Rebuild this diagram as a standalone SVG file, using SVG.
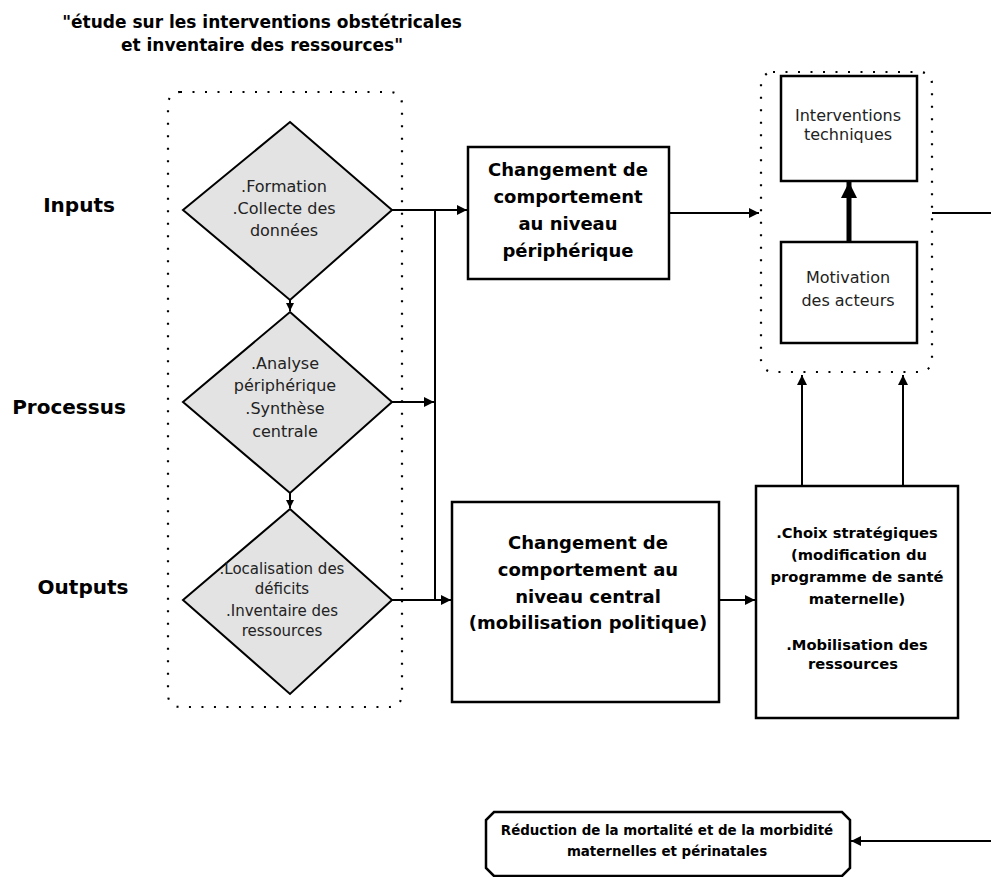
<svg xmlns="http://www.w3.org/2000/svg" width="991" height="877" viewBox="0 0 991 877">
<style>
  text { font-family: "DejaVu Sans", "Liberation Sans", sans-serif; fill: #000; text-anchor: middle; }
  .title { font-size: 17px; font-weight: bold; }
  .lab { font-size: 20px; font-weight: bold; }
  .big { font-size: 18px; font-weight: bold; }
  .mid { font-size: 14.7px; font-weight: bold; }
  .small { font-size: 13.4px; font-weight: bold; }
  .reg { font-size: 16px; fill: #222; }
  .reg2 { font-size: 15px; fill: #222; }
  .dia { fill: #e3e3e3; stroke: #000; stroke-width: 2; }
  .box { fill: #fff; stroke: #000; stroke-width: 2.5; }
  .dot { fill: none; stroke: #000; stroke-width: 2.2; stroke-dasharray: 2 10.5; }
  .ln { fill: none; stroke: #000; stroke-width: 2; }
  .thick { fill: none; stroke: #000; stroke-width: 5; }
</style>
<defs>
  <marker id="ah" viewBox="0 0 10 10" refX="10" refY="5" markerWidth="12" markerHeight="10" markerUnits="userSpaceOnUse" orient="auto">
    <path d="M0,0 L10,5 L0,10 z" fill="#000"/>
  </marker>
  <marker id="ahs" viewBox="0 0 10 10" refX="10" refY="5" markerWidth="9" markerHeight="8" markerUnits="userSpaceOnUse" orient="auto">
    <path d="M0,0 L10,5 L0,10 z" fill="#000"/>
  </marker>
  <marker id="ahb" viewBox="0 0 10 10" refX="10" refY="5" markerWidth="16" markerHeight="17" markerUnits="userSpaceOnUse" orient="auto">
    <path d="M0,0 L10,5 L0,10 z" fill="#000"/>
  </marker>
</defs>

<g id="title">
  <text class="title" x="262" y="28">"étude sur les interventions obstétricales</text>
  <text class="title" x="262" y="51">et inventaire des ressources"</text>
</g>

<g id="labels">
  <text class="lab" x="79" y="212">Inputs</text>
  <text class="lab" x="69" y="414">Processus</text>
  <text class="lab" x="83" y="594">Outputs</text>
</g>

<g id="group-left">
  <rect class="dot" x="168" y="92" width="234" height="615" rx="12"/>
</g>

<g id="diamond-inputs">
  <polygon class="dia" points="290,122 392,210 290,300 183,210"/>
  <text class="reg" x="284" y="192">.Formation</text>
  <text class="reg" x="284" y="214">.Collecte des</text>
  <text class="reg" x="284" y="236">données</text>
</g>

<g id="diamond-processus">
  <polygon class="dia" points="290,312 392,402 290,493 183,402"/>
  <text class="reg" x="285" y="369">.Analyse</text>
  <text class="reg" x="285" y="391">périphérique</text>
  <text class="reg" x="285" y="414">.Synthèse</text>
  <text class="reg" x="285" y="437">centrale</text>
</g>

<g id="diamond-outputs">
  <polygon class="dia" points="290,509 392,600 290,694 183,600"/>
  <text class="reg2" x="282" y="574">.Localisation des</text>
  <text class="reg2" x="282" y="594">déficits</text>
  <text class="reg2" x="282" y="616">.Inventaire des</text>
  <text class="reg2" x="282" y="636">ressources</text>
</g>

<g id="box-peripherique">
  <rect class="box" x="468" y="147" width="201" height="132"/>
  <text class="big" x="568" y="176">Changement de</text>
  <text class="big" x="568" y="203">comportement</text>
  <text class="big" x="568" y="230">au niveau</text>
  <text class="big" x="568" y="257">périphérique</text>
</g>

<g id="box-central">
  <rect class="box" x="452" y="502" width="267" height="200"/>
  <text class="big" x="588" y="549">Changement de</text>
  <text class="big" x="588" y="576">comportement au</text>
  <text class="big" x="588" y="603">niveau central</text>
  <text class="big" x="588" y="629">(mobilisation politique)</text>
</g>

<g id="group-right">
  <rect class="dot" x="761" y="72" width="171" height="300" rx="12"/>
</g>

<g id="box-interventions">
  <rect class="box" x="781" y="76" width="136" height="105"/>
  <text class="reg" x="848" y="121">Interventions</text>
  <text class="reg" x="848" y="140">techniques</text>
</g>

<g id="box-motivation">
  <rect class="box" x="781" y="242" width="136" height="101"/>
  <text class="reg" x="848" y="283">Motivation</text>
  <text class="reg" x="848" y="306">des acteurs</text>
</g>

<g id="box-choix">
  <rect class="box" x="756" y="486" width="202" height="232"/>
  <text class="mid" x="857" y="538">.Choix stratégiques</text>
  <text class="mid" x="859" y="560">(modification du</text>
  <text class="mid" x="857" y="582">programme de santé</text>
  <text class="mid" x="857" y="604">maternelle)</text>
  <text class="mid" x="857" y="650">.Mobilisation des</text>
  <text class="mid" x="853" y="669">ressources</text>
</g>

<g id="box-reduction">
  <path class="box" d="M494,812 H842 L850,820 V868 L842,876 H494 L486,868 V820 Z"/>
  <text class="small" x="667" y="835">Réduction de la mortalité et de la morbidité</text>
  <text class="small" x="667" y="856">maternelles et périnatales</text>
</g>

<g id="connectors">
  <path class="ln" d="M290,300 V311" marker-end="url(#ahs)"/>
  <path class="ln" d="M290,493 V508" marker-end="url(#ahs)"/>
  <path class="ln" d="M392,210 H467" marker-end="url(#ah)"/>
  <path class="ln" d="M435,210 V600"/>
  <path class="ln" d="M392,402 H434" marker-end="url(#ah)"/>
  <path class="ln" d="M392,600 H451" marker-end="url(#ah)"/>
  <path class="ln" d="M669,213 H759" marker-end="url(#ah)"/>
  <path class="thick" d="M849,242 V182" marker-end="url(#ahb)"/>
  <path class="ln" d="M719,600 H755" marker-end="url(#ah)"/>
  <path class="ln" d="M802,486 V375" marker-end="url(#ah)"/>
  <path class="ln" d="M903,486 V375" marker-end="url(#ah)"/>
  <path class="ln" d="M932,213 H996 V841 H851" marker-end="url(#ah)"/>
</g>
</svg>
